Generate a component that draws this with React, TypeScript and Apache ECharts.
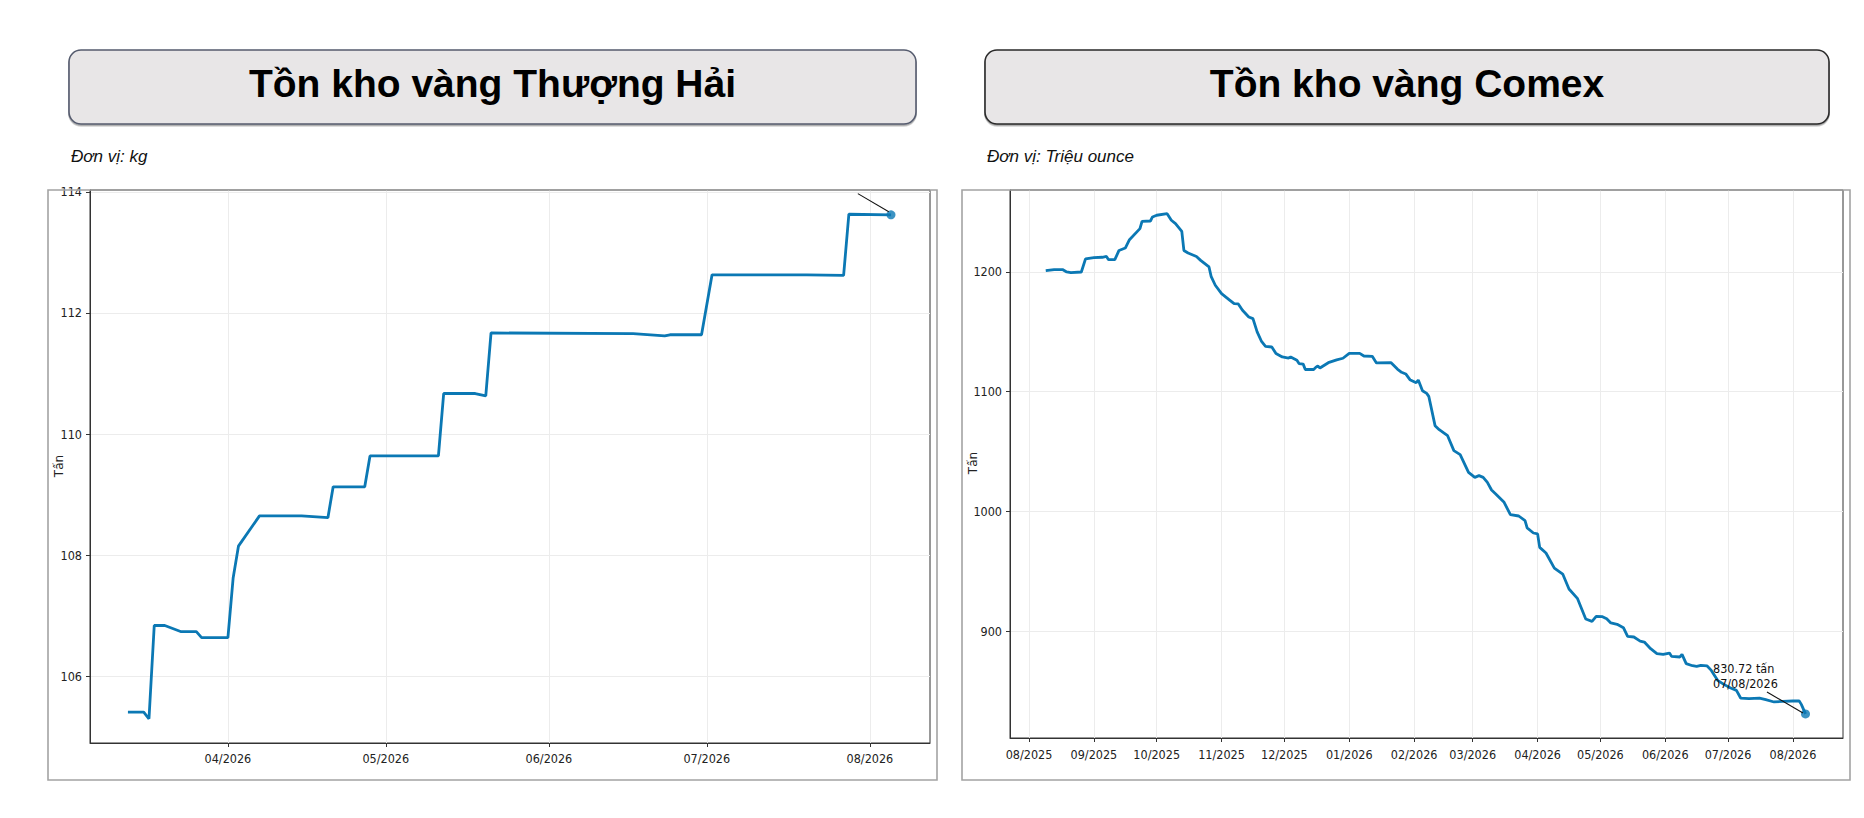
import { useEffect, useRef } from "react";
import * as echarts from "echarts";

// Tồn kho vàng Thượng Hải
const shanghaiDates = [
  "2026-03-13", "2026-03-16", "2026-03-17", "2026-03-18", "2026-03-20", "2026-03-23",
  "2026-03-26", "2026-03-27", "2026-04-01", "2026-04-02", "2026-04-03", "2026-04-07",
  "2026-04-15", "2026-04-20", "2026-04-21", "2026-04-27", "2026-04-28", "2026-05-11",
  "2026-05-12", "2026-05-18", "2026-05-20", "2026-05-21", "2026-06-17", "2026-06-23",
  "2026-06-24", "2026-06-30", "2026-07-02", "2026-07-20", "2026-07-27", "2026-07-28",
  "2026-08-05",
];
const shanghaiValues = [
  105.41, 105.41, 105.3, 106.84, 106.84, 106.74,
  106.74, 106.64, 106.64, 107.63, 108.15, 108.65,
  108.65, 108.62, 109.13, 109.13, 109.64, 109.64,
  110.67, 110.67, 110.63, 111.67, 111.66, 111.62,
  111.64, 111.64, 112.63, 112.63, 112.62, 113.63,
  113.62,
];
const shanghaiMonthTicks = ["2026-04-01", "2026-05-01", "2026-06-01", "2026-07-01", "2026-08-01"];
const shanghaiYTicks = [106, 108, 110, 112, 114];
const shanghaiXRange = ["2026-03-05T19:00", "2026-08-12T10:00"];
const shanghaiYRange = [104.9, 114.03];
const shanghaiArrow = [["2026-07-29T17:00", 113.97], ["2026-08-04T14:00", 113.67]];

// Tồn kho vàng Comex
const comexDates = [
  "2025-08-09", "2025-08-13", "2025-08-17", "2025-08-19", "2025-08-21", "2025-08-26", "2025-08-28",
  "2025-09-01", "2025-09-05", "2025-09-07", "2025-09-08", "2025-09-11", "2025-09-13", "2025-09-16",
  "2025-09-18", "2025-09-23", "2025-09-24", "2025-09-28", "2025-09-29", "2025-10-01", "2025-10-06",
  "2025-10-08", "2025-10-10", "2025-10-13", "2025-10-14", "2025-10-16", "2025-10-20", "2025-10-22",
  "2025-10-26", "2025-10-27", "2025-10-29", "2025-11-01", "2025-11-05", "2025-11-07", "2025-11-09",
  "2025-11-11", "2025-11-14", "2025-11-16", "2025-11-18", "2025-11-20", "2025-11-22", "2025-11-25",
  "2025-11-27", "2025-11-30", "2025-12-03", "2025-12-04", "2025-12-07", "2025-12-08", "2025-12-10",
  "2025-12-11", "2025-12-15", "2025-12-16", "2025-12-17", "2025-12-18", "2025-12-22", "2025-12-26",
  "2025-12-29", "2026-01-01", "2026-01-06", "2026-01-08", "2026-01-12", "2026-01-14", "2026-01-21",
  "2026-01-24", "2026-01-26", "2026-01-28", "2026-01-30", "2026-02-02", "2026-02-03", "2026-02-05",
  "2026-02-07", "2026-02-08", "2026-02-11", "2026-02-13", "2026-02-17", "2026-02-20", "2026-02-23",
  "2026-02-27", "2026-03-02", "2026-03-04", "2026-03-06", "2026-03-08", "2026-03-10", "2026-03-12",
  "2026-03-16", "2026-03-19", "2026-03-23", "2026-03-26", "2026-03-27", "2026-03-30", "2026-04-01",
  "2026-04-02", "2026-04-05", "2026-04-09", "2026-04-13", "2026-04-16", "2026-04-20", "2026-04-24",
  "2026-04-27", "2026-04-29", "2026-05-02", "2026-05-04", "2026-05-06", "2026-05-09", "2026-05-12",
  "2026-05-14", "2026-05-17", "2026-05-20", "2026-05-22", "2026-05-25", "2026-05-28", "2026-05-31",
  "2026-06-03", "2026-06-04", "2026-06-08", "2026-06-09", "2026-06-11", "2026-06-14", "2026-06-16",
  "2026-06-18", "2026-06-21", "2026-06-23", "2026-06-26", "2026-06-29", "2026-07-02", "2026-07-05",
  "2026-07-07", "2026-07-11", "2026-07-16", "2026-07-19", "2026-07-23", "2026-07-27", "2026-08-01",
  "2026-08-04", "2026-08-05", "2026-08-07",
];
const comexValues = [
  1201.1, 1202, 1202, 1200, 1199.4, 1200, 1211,
  1212, 1212.3, 1213, 1210.3, 1210.3, 1218, 1220,
  1227, 1236.2, 1242.3, 1242.6, 1246, 1247.4, 1248.7,
  1243.2, 1240.4, 1234, 1218, 1215.9, 1213, 1209.7,
  1204.2, 1196.4, 1188.9, 1181.9, 1176.3, 1173.5, 1173.3,
  1168, 1162.4, 1161, 1149.9, 1142.3, 1137.9, 1137.3,
  1131.8, 1129, 1128.1, 1129, 1126.2, 1123.5, 1123,
  1118.5, 1118.5, 1120.3, 1121.5, 1119.8, 1124.2, 1126.5,
  1127.9, 1132, 1132, 1129.8, 1129.5, 1124, 1124.2,
  1118.9, 1116.2, 1114.8, 1110, 1107.5, 1109.7, 1100.8,
  1098.6, 1096.1, 1071.6, 1068.2, 1063.2, 1050.7, 1047.4,
  1032.6, 1028.4, 1029.8, 1028.4, 1024.2, 1017.8, 1014.5,
  1007.5, 997.2, 996.1, 992.2, 986.1, 981.9, 981.1,
  969.9, 965.2, 952.6, 947.6, 935.1, 927.3, 910,
  908.1, 912.3, 912, 910.3, 906.7, 905.6, 902.8,
  895.5, 895, 891.6, 890.8, 885.2, 881.1, 880.5,
  881.6, 878.8, 878.3, 880.5, 872.7, 871, 870.5,
  871.3, 870.8, 867.1, 858.8, 855.4, 852.6, 850.4,
  844, 843.5, 844, 842.6, 840.7, 841.2, 841.5,
  841.5, 838.7, 830.72,
];
const comexMonthTicks = [
  "2025-08-01", "2025-09-01", "2025-10-01", "2025-11-01", "2025-12-01", "2026-01-01", "2026-02-01",
  "2026-03-01", "2026-04-01", "2026-05-01", "2026-06-01", "2026-07-01", "2026-08-01",
];
const comexYTicks = [900, 1000, 1100, 1200];
const comexXRange = ["2025-07-22T22:00", "2026-08-24T22:00"];
const comexYRange = [810.6, 1268.5];
const comexArrow = [["2026-07-19T14:00", 849.0], ["2026-08-05T19:00", 831.5]];
const comexNote = { at: ["2026-06-23T19:00", 862.8], text: "830.72 tấn\n07/08/2026" };

const LINE = "#0b78b4";
const NARROW = "'Liberation Sans Narrow', 'DejaVu Sans Condensed', 'Roboto Condensed', sans-serif";

const ts = (s: string) => Date.parse(s.length === 10 ? s + "T00:00:00Z" : s + ":00Z");
const monthLabel = (v: number) => {
  const d = new Date(v);
  return String(d.getUTCMonth() + 1).padStart(2, "0") + "/" + d.getUTCFullYear();
};

// dates go on a value axis as timestamps, so month ticks can be placed with customValues
const xAxisFor = (gridIndex: number, range: string[], ticks: string[], margin: number) => ({
  type: "value",
  gridIndex,
  min: ts(range[0]),
  max: ts(range[1]),
  axisLine: { show: true, lineStyle: { color: "#333", width: 1 } },
  axisTick: { show: true, length: 4, lineStyle: { color: "#333" }, customValues: ticks.map(ts) },
  axisLabel: {
    customValues: ticks.map(ts),
    formatter: (v: number) => monthLabel(v),
    color: "#222",
    fontSize: 12.5,
    fontFamily: NARROW,
    margin,
    hideOverlap: false,
  },
  splitLine: { show: true, lineStyle: { color: "#ececec", width: 1 } },
});

const yAxisFor = (gridIndex: number, range: number[], ticks: number[]) => ({
  type: "value",
  gridIndex,
  min: range[0],
  max: range[1],
  axisLine: { show: true, lineStyle: { color: "#333", width: 1 } },
  axisTick: { show: true, length: 4, lineStyle: { color: "#333" }, customValues: ticks },
  axisLabel: {
    customValues: ticks,
    formatter: (v: number) => String(v),
    color: "#222",
    fontSize: 12.5,
    fontFamily: NARROW,
    margin: 8,
  },
  splitLine: { show: true, lineStyle: { color: "#ececec", width: 1 } },
});

const titleBox = (x: number, w: number, stroke: string, text: string, unit: string) => [
  {
    type: "rect",
    shape: { x, y: 50, width: w, height: 74, r: 12 },
    style: { fill: "#e8e6e7", stroke, lineWidth: 1.6, shadowColor: "rgba(0,0,0,0.35)", shadowOffsetY: 1.5, shadowBlur: 1 },
  },
  {
    type: "text",
    x: x + w / 2,
    y: 83,
    style: {
      text,
      fill: "#000",
      font: "bold 39px 'Liberation Sans', Arial, sans-serif",
      textAlign: "center",
      textVerticalAlign: "middle",
    },
  },
  {
    type: "text",
    x: x + 2,
    y: 156,
    style: {
      text: unit,
      fill: "#111",
      font: "italic 17px 'Liberation Sans', Arial, sans-serif",
      textAlign: "left",
      textVerticalAlign: "middle",
    },
  },
];

const frame = (x: number, w: number) => ({
  type: "rect",
  z: 100,
  shape: { x, y: 190, width: w, height: 590 },
  style: { fill: "none", stroke: "#a3a3a3", lineWidth: 1.6 },
});

const yTitle = (x: number, y: number) => ({
  type: "text",
  x,
  y,
  rotation: Math.PI / 2,
  style: {
    text: "Tấn",
    fill: "#222",
    font: "12px 'DejaVu Sans', sans-serif",
    textAlign: "center",
    textVerticalAlign: "middle",
  },
});

const arrowLine = (pts: (string | number)[][]) => ({
  silent: true,
  symbol: ["none", "arrow"],
  symbolSize: [0, 9],
  label: { show: false },
  lineStyle: { color: "#111", width: 1.1, type: "solid" },
  data: [[
    { coord: [ts(pts[0][0] as string), pts[0][1]] },
    { coord: [ts(pts[1][0] as string), pts[1][1]] },
  ]],
});

export default function App() {
  const ref = useRef<HTMLDivElement>(null);

  useEffect(() => {
    if (!ref.current) return;
    const chart = echarts.init(ref.current, null, { renderer: "svg" });

    const shLast = shanghaiDates.length - 1;
    const cxLast = comexDates.length - 1;

    chart.setOption({
      animation: false,
      backgroundColor: "#fff",
      grid: [
        { left: 90, top: 190, width: 840, height: 553, show: true, borderColor: "#333", borderWidth: 1, backgroundColor: "transparent" },
        { left: 1010, top: 190, width: 833, height: 548, show: true, borderColor: "#333", borderWidth: 1, backgroundColor: "transparent" },
      ],
      xAxis: [
        xAxisFor(0, shanghaiXRange, shanghaiMonthTicks, 9),
        xAxisFor(1, comexXRange, comexMonthTicks, 10),
      ],
      yAxis: [yAxisFor(0, shanghaiYRange, shanghaiYTicks), yAxisFor(1, comexYRange, comexYTicks)],
      series: [
        {
          type: "scatter",
          z: 1,
          xAxisIndex: 0,
          yAxisIndex: 0,
          data: [[ts(shanghaiDates[shLast]), shanghaiValues[shLast]]],
          symbolSize: 9,
          itemStyle: { color: LINE },
        },
        {
          type: "line",
          z: 3,
          xAxisIndex: 0,
          yAxisIndex: 0,
          data: shanghaiDates.map((d, i) => [ts(d), shanghaiValues[i]]),
          showSymbol: false,
          symbol: "none",
          lineStyle: { color: LINE, width: 2.8 },
          markLine: arrowLine(shanghaiArrow),
        },
        {
          type: "scatter",
          z: 1,
          xAxisIndex: 1,
          yAxisIndex: 1,
          data: [[ts(comexDates[cxLast]), comexValues[cxLast]]],
          symbolSize: 9,
          itemStyle: { color: LINE },
        },
        {
          type: "line",
          z: 3,
          xAxisIndex: 1,
          yAxisIndex: 1,
          data: comexDates.map((d, i) => [ts(d), comexValues[i]]),
          showSymbol: false,
          symbol: "none",
          lineStyle: { color: LINE, width: 2.8 },
          markLine: arrowLine(comexArrow),
          markPoint: {
            silent: true,
            symbol: "circle",
            symbolSize: 0,
            data: [{ coord: [ts(comexNote.at[0] as string), comexNote.at[1]] }],
            label: {
              show: true,
              position: "inside",
              formatter: comexNote.text,
              align: "left",
              verticalAlign: "middle",
              color: "#111",
              fontSize: 12.5,
              lineHeight: 15,
              fontFamily: NARROW,
            },
          },
        },
      ],
      graphic: [
        ...titleBox(69, 847, "#555b6e", "Tồn kho vàng Thượng Hải", "Đơn vị: kg"),
        ...titleBox(985, 844, "#2a2a2a", "Tồn kho vàng Comex", "Đơn vị: Triệu ounce"),
        frame(48, 889),
        frame(962, 888),
        yTitle(59, 466),
        yTitle(973, 463),
      ],
    });

    return () => chart.dispose();
  }, []);

  return (
    <div
      ref={ref}
      style={{ position: "absolute", left: 0, top: 0, width: 1864, height: 818 }}
    />
  );
}
